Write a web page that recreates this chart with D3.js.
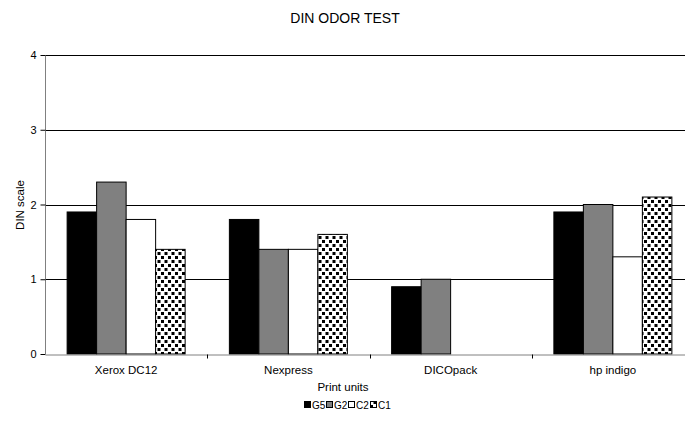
<!DOCTYPE html>
<html>
<head>
<meta charset="utf-8">
<script src="https://cdnjs.cloudflare.com/ajax/libs/d3/7.8.5/d3.min.js"></script>
<style>
  body { margin: 0; background: #fff; }
  svg { display: block; font-family: "Liberation Sans", Arial, sans-serif; }
</style>
</head>
<body>
<div class="chart"></div>
<script>
// chart data
const units = ["Xerox DC12", "Nexpress", "DICOpack", "hp indigo"];
const series = ["G5", "G2", "C2", "C1"];
const g5 = [1.9, 1.8, 0.9, 1.9];
const g2 = [2.3, 1.4, 1.0, 2.0];
const c2 = [1.8, 1.4, 0, 1.3];
const c1 = [1.4, 1.6, 0, 2.1];
const yTicks = [0, 1, 2, 3, 4];

const width = 685;
const height = 427;
const plotLeft = 45, plotRight = 694, plotTop = 55, plotBottom = 354;

const svg = d3.select(".chart")
  .append("svg")
  .attr("width", width)
  .attr("height", height);

// dotted pattern for C1
const defs = svg.append("defs");
const pat = defs.append("pattern")
  .attr("id", "dots")
  .attr("patternUnits", "userSpaceOnUse")
  .attr("width", 7)
  .attr("height", 8);
pat.append("rect").attr("width", 7).attr("height", 8).attr("fill", "#fff");
pat.append("rect").attr("x", 0).attr("y", 0).attr("width", 3).attr("height", 3).attr("fill", "#000");
pat.append("rect").attr("x", 3.5).attr("y", 4).attr("width", 3).attr("height", 3).attr("fill", "#000");

const fills = {G5: "#000", G2: "#808080", C2: "#fff", C1: "url(#dots)"};
const values = {G5: g5, G2: g2, C2: c2, C1: c1};

let x0 = d3.scaleBand().domain(units).range([plotLeft, plotRight]);
// Excel gap width 150%: bars take 4/(4+1.5) of each band
let x1 = d3.scaleBand().domain(series)
  .range([x0.bandwidth() * 0.75 / 5.5, x0.bandwidth() * (1 - 0.75 / 5.5)]);
let y = d3.scaleLinear().domain([0, 4]).range([plotBottom, plotTop]);

const crisp = v => Math.round(v) + 0.5;

// grid lines
svg.append("g").selectAll("line")
  .data(yTicks.filter(t => t > 0))
  .enter()
  .append("line")
  .attr("x1", plotLeft).attr("x2", plotRight)
  .attr("y1", d => crisp(y(d))).attr("y2", d => crisp(y(d)))
  .attr("stroke", "#000")
  .attr("stroke-width", 1);

// bars
const rows = [];
units.forEach((u, i) => series.forEach(s => rows.push({unit: u, s: s, v: values[s][i]})));
svg.append("g").selectAll("rect")
  .data(rows.filter(d => d.v > 0))
  .enter()
  .append("rect")
  .attr("x", d => x0(d.unit) + x1(d.s))
  .attr("y", d => y(d.v))
  .attr("width", x1.bandwidth())
  .attr("height", d => y(0) - y(d.v))
  .attr("fill", d => fills[d.s])
  .attr("stroke", "#000")
  .attr("stroke-width", 1);

// y axis
const yAxis = d3.axisLeft(y).tickValues(yTicks).tickSize(5).tickFormat(d3.format("d"));
const gy = svg.append("g")
  .attr("transform", "translate(" + crisp(plotLeft) + ",0)")
  .call(yAxis);
gy.select(".domain").attr("stroke", "#808080").attr("d", "M0," + plotTop + "V" + plotBottom);
gy.selectAll(".tick line").attr("stroke", "#000");
gy.selectAll(".tick text").attr("font-size", 11).attr("fill", "#000").attr("x", -9)
  .attr("font-family", "Liberation Sans, Arial, sans-serif");

// x axis
const xAxis = d3.axisBottom(x0).tickSize(0).tickSizeOuter(0);
const gx = svg.append("g")
  .attr("transform", "translate(0," + crisp(plotBottom) + ")")
  .call(xAxis);
gx.select(".domain").attr("stroke", "#808080");
gx.selectAll(".tick text").attr("font-size", 11.5).attr("fill", "#000").attr("dy", "0.71em").attr("y", 11)
  .attr("font-family", "Liberation Sans, Arial, sans-serif");
// category separator ticks
gx.selectAll(".sep")
  .data(units.slice(1))
  .enter()
  .append("line")
  .attr("x1", d => crisp(x0(d))).attr("x2", d => crisp(x0(d)))
  .attr("y1", 0).attr("y2", 4)
  .attr("stroke", "#000");

// titles
svg.append("text")
  .attr("x", 345).attr("y", 23)
  .attr("text-anchor", "middle")
  .attr("font-size", 14)
  .text("DIN ODOR TEST");

svg.append("text")
  .attr("x", 343).attr("y", 391)
  .attr("text-anchor", "middle")
  .attr("font-size", 11.5)
  .text("Print units");

svg.append("text")
  .attr("transform", "translate(24,205) rotate(-90)")
  .attr("text-anchor", "middle")
  .attr("font-size", 11.5)
  .text("DIN scale");

// legend
const legend = svg.append("g").attr("transform", "translate(304,405)");
const item = legend.selectAll("g")
  .data(series)
  .enter()
  .append("g")
  .attr("transform", (d, i) => "translate(" + (i * 22) + ",0)");
item.append("rect")
  .attr("x", 0.5).attr("y", -3.5)
  .attr("width", 6).attr("height", 6)
  .attr("fill", d => fills[d])
  .attr("stroke", "#000");
item.append("text")
  .attr("x", 8).attr("y", 3.5)
  .attr("font-size", 10)
  .text(d => d);
</script>
</body>
</html>
